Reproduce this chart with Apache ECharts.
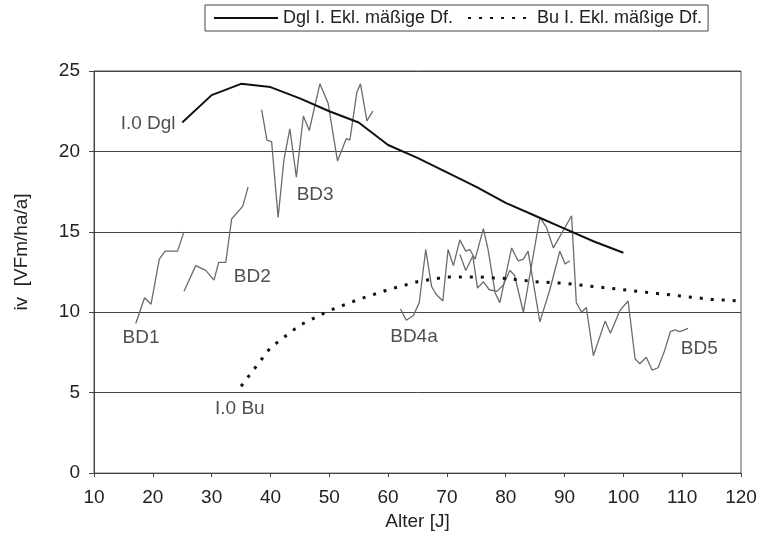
<!DOCTYPE html>
<html>
<head>
<meta charset="utf-8">
<script src="https://cdn.jsdelivr.net/npm/echarts@6/dist/echarts.min.js"></script>
<style>
  html, body { margin: 0; padding: 0; background: #fff; }
  #chart { width: 769px; height: 536px; }
</style>
</head>
<body>
<div id="chart"></div>
<script>
// Ertragstafel Douglasie, I. Ekl., mäßige Durchforstung
const dglAge = [25, 30, 35, 40, 45, 50, 55, 60, 65, 70, 75, 80, 85, 90, 95, 100];
const dglIv  = [21.8, 23.5, 24.2, 24.0, 23.3, 22.5, 21.8, 20.4, 19.6, 18.7, 17.8, 16.8, 16.0, 15.2, 14.4, 13.7];

// Ertragstafel Buche, I. Ekl., mäßige Durchforstung
const buAge = [35, 40, 45, 50, 55, 60, 65, 70, 75, 80, 85, 90, 95, 100, 105, 110, 115, 120];
const buIv  = [5.4, 7.8, 9.2, 10.1, 10.8, 11.4, 11.9, 12.2, 12.2, 12.1, 11.9, 11.8, 11.6, 11.4, 11.2, 11.0, 10.8, 10.7];

// Gemessener laufender Zuwachs der Versuchsflächen
const bd1Age = [17.1, 18.6, 19.7, 21.1, 22.1, 24.2, 25.3];
const bd1Iv  = [9.3, 10.9, 10.5, 13.3, 13.8, 13.8, 15.0];

const bd2Age = [25.3, 27.3, 29.0, 30.4, 31.2, 32.4, 33.4, 35.3, 36.2];
const bd2Iv  = [11.3, 12.9, 12.6, 12.0, 13.1, 13.1, 15.8, 16.6, 17.8];

const bd3Age = [38.5, 39.4, 40.2, 41.3, 42.3, 43.3, 44.4, 45.6, 46.6, 48.4, 49.8, 51.4, 52.9, 53.5, 54.7, 55.3, 56.4, 57.4];
const bd3Iv  = [22.6, 20.7, 20.6, 15.9, 19.5, 21.4, 18.4, 22.2, 21.3, 24.2, 23.0, 19.4, 20.8, 20.7, 23.7, 24.2, 21.9, 22.5];

const bd4aAge = [62.1, 63.1, 64.3, 65.3, 66.4, 67.4, 68.2, 69.3, 70.2, 71.1, 72.2, 73.2, 73.9, 74.8, 76.2, 77.0, 78.2, 79.0, 81.0, 82.1, 83.0, 83.8, 85.8, 87.5, 89.2, 90.1, 90.9];
const bd4aIv  = [10.2, 9.5, 9.8, 10.6, 13.9, 11.6, 11.1, 10.7, 13.9, 12.9, 14.5, 13.8, 13.9, 13.3, 15.2, 13.9, 11.2, 10.6, 14.0, 13.2, 13.3, 13.8, 9.4, 11.4, 13.8, 13.0, 13.2];

const bd4bAge = [72.2, 73.2, 74.4, 75.2, 76.2, 77.2, 78.5, 79.6, 80.7, 81.5, 83.0, 85.8, 86.9, 88.1, 91.2, 92.0];
const bd4bIv  = [13.6, 12.6, 13.5, 11.5, 11.9, 11.4, 11.3, 11.7, 12.6, 12.3, 10.0, 15.9, 15.3, 14.0, 16.0, 10.6];

const bd5Age = [92.0, 92.9, 93.7, 94.9, 96.9, 97.8, 99.4, 100.8, 102.0, 102.8, 103.9, 104.9, 105.9, 107.0, 108.0, 108.8, 109.6, 111.0];
const bd5Iv  = [10.6, 10.0, 10.3, 7.3, 9.45, 8.7, 10.1, 10.7, 7.1, 6.8, 7.2, 6.4, 6.55, 7.6, 8.8, 8.9, 8.8, 9.0];

// Beschriftungen im Diagramm (Lage in Achsenkoordinaten)
const noteText = ['I.0 Dgl', 'BD1', 'BD2', 'BD3', 'BD4a', 'BD5', 'I.0 Bu'];
const noteAge  = [19.2, 18.0, 36.9, 47.6, 64.4, 112.9, 34.8];
const noteIv   = [21.7, 8.4, 12.2, 17.3, 8.5, 7.7, 4.0];

// Achsen
const xTicks = { min: 10, max: 120, step: 10 };
const yTicks = { min: 0, max: 25, step: 5 };

const nameDgl = 'Dgl I. Ekl. mäßige Df.';
const nameBu  = 'Bu I. Ekl. mäßige Df.';

const FONT = 'Arial, "Liberation Sans", sans-serif';
const pairs = (xs, ys) => xs.map((x, i) => [x, ys[i]]);

const measured = (name, xs, ys) => ({
  name, type: 'line', data: pairs(xs, ys), symbol: 'none', silent: true, z: 2,
  itemStyle: { color: '#6b6b6b' },
  lineStyle: { color: '#6b6b6b', width: 1.3 }
});

const chart = echarts.init(document.getElementById('chart'), null, { renderer: 'canvas' });

chart.setOption({
  animation: false,
  backgroundColor: '#fff',
  textStyle: { fontFamily: FONT, color: '#222' },
  legend: {
    data: [nameDgl, nameBu],
    left: 205, top: 5,
    padding: [4, 6, 4, 8],
    itemWidth: 64, itemHeight: 12, itemGap: 14,
    borderColor: '#444', borderWidth: 1,
    itemStyle: { opacity: 0 },
    textStyle: { fontFamily: FONT, fontSize: 18, color: '#222' }
  },
  grid: { left: 94, right: 28, top: 71, bottom: 62, show: true, borderColor: '#555', borderWidth: 1, backgroundColor: 'transparent' },
  xAxis: {
    type: 'value', min: xTicks.min, max: xTicks.max, interval: xTicks.step,
    name: 'Alter [J]', nameLocation: 'middle', nameGap: 38,
    nameTextStyle: { fontFamily: FONT, fontSize: 19, color: '#222' },
    axisLine: { lineStyle: { color: '#444', width: 1 } },
    axisTick: { show: true, inside: false, length: 4, lineStyle: { color: '#444' } },
    axisLabel: { fontFamily: FONT, fontSize: 19, color: '#222', margin: 15 },
    splitLine: { show: false }
  },
  yAxis: {
    type: 'value', min: yTicks.min, max: yTicks.max, interval: yTicks.step,
    axisLine: { show: true, lineStyle: { color: '#444', width: 1 } },
    axisTick: { show: true, inside: false, length: 5, lineStyle: { color: '#444' } },
    axisLabel: { fontFamily: FONT, fontSize: 19, color: '#222', margin: 14 },
    splitLine: { show: true, lineStyle: { color: '#444', width: 1 } }
  },
  graphic: [{
    type: 'text', x: 22, y: 252, rotation: Math.PI / 2,
    style: { text: 'iv  [VFm/ha/a]', x: 0, y: 0, align: 'center', verticalAlign: 'middle', font: '19px ' + FONT, fill: '#222' }
  }],
  series: [
    {
      name: nameDgl, type: 'line', data: pairs(dglAge, dglIv), symbol: 'none', silent: true, z: 3,
      itemStyle: { color: '#111' },
      lineStyle: { color: '#111', width: 2 }
    },
    {
      name: nameBu, type: 'line', data: pairs(buAge, buIv), symbol: 'none', silent: true, z: 3,
      itemStyle: { color: '#111' },
      lineStyle: { color: '#111', width: 3, type: [3, 8] }
    },
    measured('BD1', bd1Age, bd1Iv),
    measured('BD2', bd2Age, bd2Iv),
    measured('BD3', bd3Age, bd3Iv),
    measured('BD4a', bd4aAge, bd4aIv),
    measured('BD4b', bd4bAge, bd4bIv),
    measured('BD5', bd5Age, bd5Iv),
    {
      name: 'notes', type: 'scatter', silent: true, z: 4,
      data: noteAge.map((x, i) => ({ value: [x, noteIv[i]], name: noteText[i] })),
      symbolSize: 0,
      label: {
        show: true, position: 'inside', formatter: p => p.name,
        fontFamily: FONT, fontSize: 19, color: '#222'
      }
    }
  ]
});
</script>
</body>
</html>
